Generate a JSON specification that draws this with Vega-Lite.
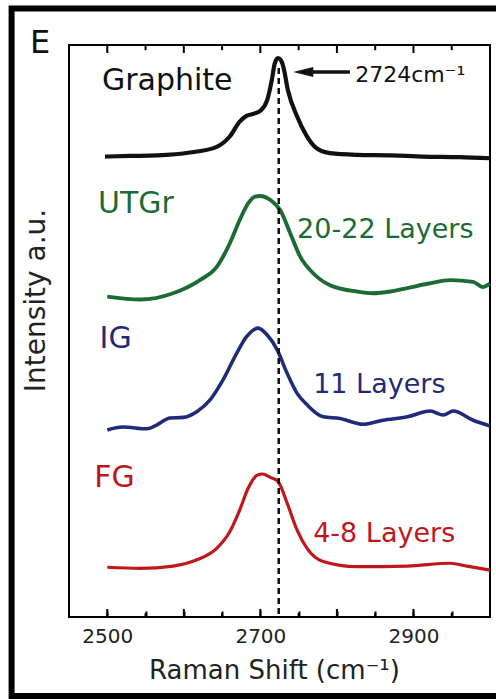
{
  "$schema": "https://vega.github.io/schema/vega-lite/v6.json",
  "width": 421,
  "height": 572,
  "autosize": {"type": "none"},
  "padding": {"left": 69, "top": 45, "right": 6, "bottom": 82},
  "background": "white",
  "config": {
    "view": {"stroke": "black", "strokeWidth": 2},
    "font": "DejaVu Sans"
  },
  "datasets": {
    "spectra": [
      {"series": "Graphite", "shift": 2497, "intensity": 80.5},
      {"series": "Graphite", "shift": 2530, "intensity": 80.6},
      {"series": "Graphite", "shift": 2565, "intensity": 80.7},
      {"series": "Graphite", "shift": 2608, "intensity": 81.2},
      {"series": "Graphite", "shift": 2643, "intensity": 82.2},
      {"series": "Graphite", "shift": 2660, "intensity": 84.0},
      {"series": "Graphite", "shift": 2673, "intensity": 86.6},
      {"series": "Graphite", "shift": 2682, "intensity": 87.6},
      {"series": "Graphite", "shift": 2692, "intensity": 88.0},
      {"series": "Graphite", "shift": 2700, "intensity": 88.5},
      {"series": "Graphite", "shift": 2709, "intensity": 90.4},
      {"series": "Graphite", "shift": 2715, "intensity": 93.9},
      {"series": "Graphite", "shift": 2719, "intensity": 96.9},
      {"series": "Graphite", "shift": 2723, "intensity": 97.7},
      {"series": "Graphite", "shift": 2727, "intensity": 97.3},
      {"series": "Graphite", "shift": 2730, "intensity": 96.2},
      {"series": "Graphite", "shift": 2736, "intensity": 92.1},
      {"series": "Graphite", "shift": 2748, "intensity": 87.5},
      {"series": "Graphite", "shift": 2761, "intensity": 84.0},
      {"series": "Graphite", "shift": 2774, "intensity": 81.9},
      {"series": "Graphite", "shift": 2791, "intensity": 81.1},
      {"series": "Graphite", "shift": 2826, "intensity": 80.8},
      {"series": "Graphite", "shift": 2870, "intensity": 80.7},
      {"series": "Graphite", "shift": 2912, "intensity": 80.5},
      {"series": "Graphite", "shift": 2960, "intensity": 80.4},
      {"series": "Graphite", "shift": 3000, "intensity": 80.2},
      {"series": "UTGr", "shift": 2500, "intensity": 56.0},
      {"series": "UTGr", "shift": 2543, "intensity": 55.5},
      {"series": "UTGr", "shift": 2586, "intensity": 56.6},
      {"series": "UTGr", "shift": 2621, "intensity": 58.9},
      {"series": "UTGr", "shift": 2643, "intensity": 61.2},
      {"series": "UTGr", "shift": 2660, "intensity": 65.3},
      {"series": "UTGr", "shift": 2673, "intensity": 69.4},
      {"series": "UTGr", "shift": 2684, "intensity": 72.3},
      {"series": "UTGr", "shift": 2693, "intensity": 73.5},
      {"series": "UTGr", "shift": 2700, "intensity": 73.6},
      {"series": "UTGr", "shift": 2713, "intensity": 72.9},
      {"series": "UTGr", "shift": 2726, "intensity": 71.1},
      {"series": "UTGr", "shift": 2739, "intensity": 67.1},
      {"series": "UTGr", "shift": 2752, "intensity": 63.0},
      {"series": "UTGr", "shift": 2769, "intensity": 60.1},
      {"series": "UTGr", "shift": 2791, "intensity": 58.0},
      {"series": "UTGr", "shift": 2826, "intensity": 56.9},
      {"series": "UTGr", "shift": 2847, "intensity": 56.6},
      {"series": "UTGr", "shift": 2870, "intensity": 56.9},
      {"series": "UTGr", "shift": 2892, "intensity": 57.5},
      {"series": "UTGr", "shift": 2920, "intensity": 58.3},
      {"series": "UTGr", "shift": 2948, "intensity": 58.9},
      {"series": "UTGr", "shift": 2978, "intensity": 58.6},
      {"series": "UTGr", "shift": 2990, "intensity": 57.7},
      {"series": "UTGr", "shift": 3000, "intensity": 58.3},
      {"series": "IG", "shift": 2500, "intensity": 32.7},
      {"series": "IG", "shift": 2520, "intensity": 33.2},
      {"series": "IG", "shift": 2552, "intensity": 32.9},
      {"series": "IG", "shift": 2565, "intensity": 33.6},
      {"series": "IG", "shift": 2582, "intensity": 34.8},
      {"series": "IG", "shift": 2599, "intensity": 34.9},
      {"series": "IG", "shift": 2617, "intensity": 35.9},
      {"series": "IG", "shift": 2634, "intensity": 37.9},
      {"series": "IG", "shift": 2651, "intensity": 41.4},
      {"series": "IG", "shift": 2669, "intensity": 46.1},
      {"series": "IG", "shift": 2682, "intensity": 49.0},
      {"series": "IG", "shift": 2697, "intensity": 50.5},
      {"series": "IG", "shift": 2709, "intensity": 49.3},
      {"series": "IG", "shift": 2722, "intensity": 46.7},
      {"series": "IG", "shift": 2735, "intensity": 42.6},
      {"series": "IG", "shift": 2748, "intensity": 39.1},
      {"series": "IG", "shift": 2761, "intensity": 37.1},
      {"series": "IG", "shift": 2782, "intensity": 35.0},
      {"series": "IG", "shift": 2804, "intensity": 34.7},
      {"series": "IG", "shift": 2834, "intensity": 33.7},
      {"series": "IG", "shift": 2860, "intensity": 34.4},
      {"series": "IG", "shift": 2892, "intensity": 35.0},
      {"series": "IG", "shift": 2922, "intensity": 36.0},
      {"series": "IG", "shift": 2939, "intensity": 35.3},
      {"series": "IG", "shift": 2952, "intensity": 36.0},
      {"series": "IG", "shift": 2978, "intensity": 34.4},
      {"series": "IG", "shift": 3000, "intensity": 33.4},
      {"series": "FG", "shift": 2500, "intensity": 8.7},
      {"series": "FG", "shift": 2543, "intensity": 8.5},
      {"series": "FG", "shift": 2586, "intensity": 8.9},
      {"series": "FG", "shift": 2617, "intensity": 10.0},
      {"series": "FG", "shift": 2643, "intensity": 12.0},
      {"series": "FG", "shift": 2660, "intensity": 14.9},
      {"series": "FG", "shift": 2673, "intensity": 18.7},
      {"series": "FG", "shift": 2684, "intensity": 22.5},
      {"series": "FG", "shift": 2696, "intensity": 24.8},
      {"series": "FG", "shift": 2703, "intensity": 25.0},
      {"series": "FG", "shift": 2713, "intensity": 24.4},
      {"series": "FG", "shift": 2723, "intensity": 23.7},
      {"series": "FG", "shift": 2735, "intensity": 19.9},
      {"series": "FG", "shift": 2748, "intensity": 15.2},
      {"series": "FG", "shift": 2761, "intensity": 12.0},
      {"series": "FG", "shift": 2782, "intensity": 9.7},
      {"series": "FG", "shift": 2826, "intensity": 8.8},
      {"series": "FG", "shift": 2892, "intensity": 8.9},
      {"series": "FG", "shift": 2948, "intensity": 9.4},
      {"series": "FG", "shift": 2970, "intensity": 8.9},
      {"series": "FG", "shift": 3000, "intensity": 8.2}
    ],
    "labels": [
      {"kind": "name", "series": "Graphite", "label": "Graphite", "shift": 2493, "intensity": 92.1},
      {"kind": "name", "series": "UTGr", "label": "UTGr", "shift": 2488, "intensity": 70.6},
      {"kind": "name", "series": "IG", "label": "IG", "shift": 2490, "intensity": 47.0},
      {"kind": "name", "series": "FG", "label": "FG", "shift": 2483, "intensity": 22.7},
      {"kind": "layers", "series": "UTGr", "label": "20-22 Layers", "shift": 2748, "intensity": 66.2},
      {"kind": "layers", "series": "IG", "label": "11 Layers", "shift": 2769, "intensity": 39.2},
      {"kind": "layers", "series": "FG", "label": "4-8 Layers", "shift": 2769, "intensity": 13.1},
      {"kind": "note", "series": "Graphite", "label": "2724cm⁻¹", "shift": 2824, "intensity": 93.5},
      {"kind": "panel", "series": "Graphite", "label": "E", "shift": 2399, "intensity": 98.6}
    ],
    "tickmarks": [
      {"pos": 2500, "kind": "major"},
      {"pos": 2550, "kind": "minor"},
      {"pos": 2600, "kind": "major"},
      {"pos": 2650, "kind": "minor"},
      {"pos": 2700, "kind": "major"},
      {"pos": 2750, "kind": "minor"},
      {"pos": 2800, "kind": "major"},
      {"pos": 2850, "kind": "minor"},
      {"pos": 2900, "kind": "major"},
      {"pos": 2950, "kind": "minor"}
    ],
    "marker": [
      {"shift": 2724, "top": 96, "bottom": 0}
    ],
    "arrow": [
      {"tip": 2756, "tail": 2817, "level": 95.3}
    ],
    "frame": [
      {"left": 2375, "right": 3012, "top": 106.4, "bottom": -13.8}
    ]
  },
  "resolve": {"axis": {"x": "independent", "y": "independent"}},
  "layer": [
    {
      "data": {"name": "spectra"},
      "mark": {"type": "line", "interpolate": "monotone"},
      "encoding": {
        "x": {
          "field": "shift", "type": "quantitative",
          "scale": {"domain": [2450, 3000], "nice": false, "zero": false},
          "axis": {
            "orient": "bottom",
            "title": "Raman Shift (cm⁻¹)",
            "values": [2500, 2550, 2600, 2650, 2700, 2750, 2800, 2850, 2900, 2950],
            "format": "d",
            "labelExpr": "datum.value % 200 === 100 ? datum.label : ''",
            "labelFont": "DejaVu Sans",
            "labelFontSize": 20,
            "labelColor": "#222",
            "labelBaseline": "alphabetic",
            "labelPadding": 31,
            "labelFlush": false,
            "labelOverlap": false,
            "domain": false,
            "grid": false,
            "tickColor": "black",
            "tickWidth": 2,
            "tickSize": -6,
            "titleFont": "DejaVu Sans",
            "titleFontSize": 26,
            "titleFontWeight": "normal",
            "titleColor": "#222",
            "titleBaseline": "alphabetic",
            "titleAlign": "center",
            "titleAnchor": "middle",
            "titleX": 205,
            "titleY": 61
          }
        },
        "y": {
          "field": "intensity", "type": "quantitative",
          "scale": {"domain": [0, 100], "nice": false, "zero": false},
          "axis": {
            "title": "Intensity a.u.",
            "ticks": false,
            "labels": false,
            "domain": false,
            "grid": false,
            "titleFont": "DejaVu Sans",
            "titleFontSize": 28,
            "titleFontWeight": "normal",
            "titleColor": "#222",
            "titleAngle": 270,
            "titleBaseline": "alphabetic",
            "titleAlign": "center",
            "titleX": -25,
            "titleY": 255
          }
        },
        "color": {
          "field": "series", "type": "nominal",
          "scale": {"domain": ["Graphite", "UTGr", "IG", "FG"], "range": ["#111111", "#1c6b35", "#1f2a78", "#c0161c"]},
          "legend": null
        },
        "strokeWidth": {
          "field": "series", "type": "nominal",
          "scale": {"domain": ["Graphite", "UTGr", "IG", "FG"], "range": [4.2, 3.2, 3.2, 3.2]},
          "legend": null
        }
      }
    },
    {
      "data": {"name": "tickmarks"},
      "transform": [{"filter": "datum.kind === 'major'"}],
      "mark": {"type": "rule", "color": "black", "strokeWidth": 2},
      "encoding": {
        "x": {"field": "pos", "type": "quantitative", "axis": null},
        "y": {"datum": 0, "type": "quantitative", "axis": null},
        "y2": {"datum": 1.4}
      }
    },
    {
      "data": {"name": "tickmarks"},
      "transform": [{"filter": "datum.kind === 'minor'"}],
      "mark": {"type": "rule", "color": "black", "strokeWidth": 2},
      "encoding": {
        "x": {"field": "pos", "type": "quantitative", "axis": null},
        "y": {"datum": 0, "type": "quantitative", "axis": null},
        "y2": {"datum": 0.7}
      }
    },
    {
      "data": {"name": "tickmarks"},
      "transform": [{"filter": "datum.kind === 'major'"}],
      "mark": {"type": "rule", "color": "black", "strokeWidth": 2},
      "encoding": {
        "x": {"field": "pos", "type": "quantitative", "axis": null},
        "y": {"datum": 100, "type": "quantitative", "axis": null},
        "y2": {"datum": 98.6}
      }
    },
    {
      "data": {"name": "tickmarks"},
      "transform": [{"filter": "datum.kind === 'minor'"}],
      "mark": {"type": "rule", "color": "black", "strokeWidth": 2},
      "encoding": {
        "x": {"field": "pos", "type": "quantitative", "axis": null},
        "y": {"datum": 100, "type": "quantitative", "axis": null},
        "y2": {"datum": 99.1}
      }
    },
    {
      "data": {"name": "marker"},
      "mark": {"type": "rule", "color": "#111", "strokeWidth": 2.5, "strokeDash": [6, 4]},
      "encoding": {
        "x": {"field": "shift", "type": "quantitative", "axis": null},
        "y": {"field": "top", "type": "quantitative", "axis": null},
        "y2": {"field": "bottom"}
      }
    },
    {
      "data": {"name": "frame"},
      "mark": {"type": "rect", "fill": null, "stroke": "black", "strokeWidth": 6, "clip": false},
      "encoding": {
        "x": {"field": "left", "type": "quantitative", "axis": null},
        "x2": {"field": "right"},
        "y": {"field": "top", "type": "quantitative", "axis": null},
        "y2": {"field": "bottom"}
      }
    },
    {
      "data": {"name": "arrow"},
      "mark": {"type": "rule", "color": "#111", "strokeWidth": 3.5},
      "encoding": {
        "x": {"field": "tip", "type": "quantitative", "axis": null},
        "x2": {"field": "tail"},
        "y": {"field": "level", "type": "quantitative", "axis": null}
      }
    },
    {
      "data": {"name": "arrow"},
      "mark": {"type": "point", "shape": "M -1 0 L 1 -0.5 L 1 0.5 Z", "filled": true, "color": "#111", "opacity": 1, "size": 400},
      "encoding": {
        "x": {"field": "tip", "type": "quantitative", "axis": null},
        "y": {"field": "level", "type": "quantitative", "axis": null}
      }
    },
    {
      "data": {"name": "labels"},
      "transform": [{"filter": "datum.kind === 'name'"}],
      "mark": {"type": "text", "align": "left", "baseline": "alphabetic", "font": "DejaVu Sans", "fontSize": 30},
      "encoding": {
        "x": {"field": "shift", "type": "quantitative", "axis": null},
        "y": {"field": "intensity", "type": "quantitative", "axis": null},
        "text": {"field": "label"},
        "color": {"field": "series", "type": "nominal", "legend": null}
      }
    },
    {
      "data": {"name": "labels"},
      "transform": [{"filter": "datum.kind === 'layers'"}],
      "mark": {"type": "text", "align": "left", "baseline": "alphabetic", "font": "DejaVu Sans", "fontSize": 27},
      "encoding": {
        "x": {"field": "shift", "type": "quantitative", "axis": null},
        "y": {"field": "intensity", "type": "quantitative", "axis": null},
        "text": {"field": "label"},
        "color": {"field": "series", "type": "nominal", "legend": null}
      }
    },
    {
      "data": {"name": "labels"},
      "transform": [{"filter": "datum.kind === 'note'"}],
      "mark": {"type": "text", "align": "left", "baseline": "alphabetic", "font": "DejaVu Sans", "fontSize": 22, "color": "#111"},
      "encoding": {
        "x": {"field": "shift", "type": "quantitative", "axis": null},
        "y": {"field": "intensity", "type": "quantitative", "axis": null},
        "text": {"field": "label"}
      }
    },
    {
      "data": {"name": "labels"},
      "transform": [{"filter": "datum.kind === 'panel'"}],
      "mark": {"type": "text", "align": "left", "baseline": "alphabetic", "font": "DejaVu Sans", "fontSize": 32, "color": "#111"},
      "encoding": {
        "x": {"field": "shift", "type": "quantitative", "axis": null},
        "y": {"field": "intensity", "type": "quantitative", "axis": null},
        "text": {"field": "label"}
      }
    }
  ]
}
